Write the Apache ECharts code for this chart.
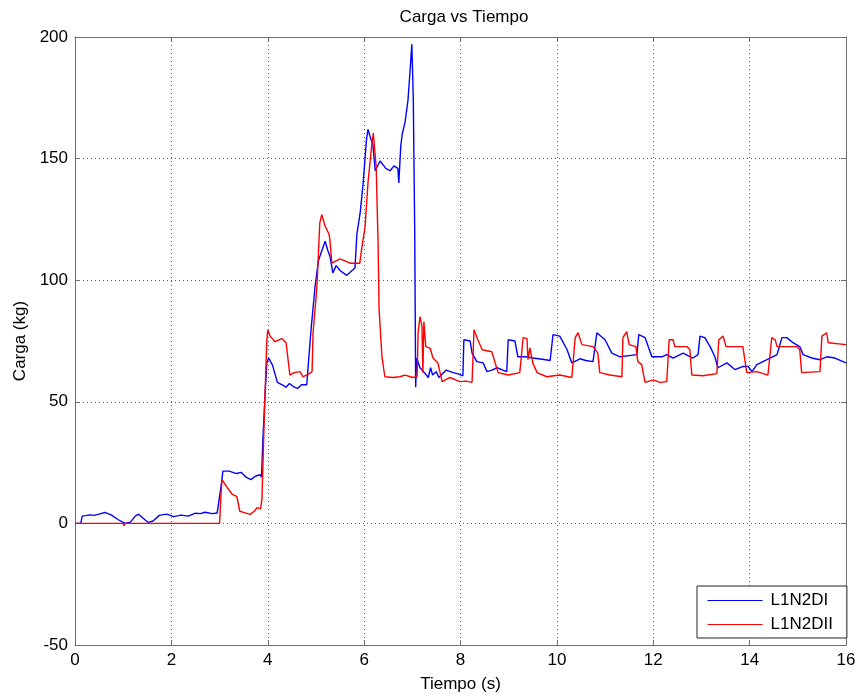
<!DOCTYPE html>
<html>
<head>
<meta charset="utf-8">
<title>Carga vs Tiempo</title>
<script src="https://cdn.jsdelivr.net/npm/echarts@6/dist/echarts.min.js"></script>
<style>
  html, body { margin: 0; padding: 0; background: #fff; }
  #chart { width: 861px; height: 698px; }
</style>
</head>
<body>
<div id="chart"></div>
<script>
const xTicks = [0, 2, 4, 6, 8, 10, 12, 14, 16]
const yTicks = [-50, 0, 50, 100, 150, 200]

// L1N2DI (azul): tiempo (s) y carga (kg)
const blueTime = [0, 0.12, 0.15, 0.22, 0.3, 0.4, 0.5, 0.62, 0.75, 0.9, 1.04, 1.15, 1.25, 1.32, 1.42, 1.52, 1.62, 1.75, 1.9, 2.05, 2.2, 2.35, 2.5, 2.6, 2.7, 2.85, 2.95, 2.99, 3.03, 3.07, 3.2, 3.35, 3.45, 3.55, 3.65, 3.75, 3.84, 3.87, 3.9, 3.95, 3.98, 4.02, 4.1, 4.2, 4.3, 4.38, 4.45, 4.55, 4.62, 4.7, 4.81, 4.84, 4.9, 4.98, 5.05, 5.12, 5.19, 5.25, 5.29, 5.35, 5.42, 5.5, 5.64, 5.75, 5.81, 5.85, 5.92, 5.98, 6.05, 6.08, 6.14, 6.18, 6.23, 6.33, 6.45, 6.54, 6.62, 6.7, 6.72, 6.76, 6.79, 6.85, 6.91, 6.96, 6.99, 7.02, 7.05, 7.07, 7.09, 7.16, 7.25, 7.33, 7.38, 7.42, 7.5, 7.55, 7.6, 7.7, 7.85, 7.95, 8.05, 8.07, 8.2, 8.24, 8.34, 8.47, 8.55, 8.65, 8.76, 8.88, 8.96, 8.99, 9.13, 9.19, 9.35, 9.5, 9.7, 9.86, 9.92, 10.06, 10.21, 10.31, 10.48, 10.6, 10.75, 10.83, 11.0, 11.14, 11.31, 11.5, 11.66, 11.7, 11.83, 11.97, 12.18, 12.28, 12.41, 12.62, 12.82, 12.93, 12.97, 13.07, 13.18, 13.28, 13.34, 13.53, 13.7, 13.85, 13.97, 14.05, 14.15, 14.36, 14.57, 14.67, 14.77, 14.9, 15.04, 15.11, 15.29, 15.46, 15.6, 15.77, 16]
const blueLoad = [0, 0, 3, 3.2, 3.5, 3.3, 3.8, 4.5, 3.5, 1.5, 0, 0.5, 3, 3.8, 2, 0.4, 1, 3.3, 3.8, 2.8, 3.4, 3, 4.2, 4, 4.6, 4, 4.3, 3.5, 15, 21.5, 21.5, 20.5, 21, 19, 18, 19.5, 20, 19, 35, 55, 66, 68, 65, 58, 57, 56, 57.5, 56, 55.5, 57, 57, 65, 80, 97, 108, 112, 116, 112, 110, 103, 106, 104, 102, 104, 105, 119, 128, 140, 158, 162, 158, 156, 145, 149, 146, 145, 147, 146, 140, 155, 160, 165, 174, 188, 197, 175, 120, 56, 68, 64, 62, 60, 64, 61, 62.4, 60, 61, 63, 62, 61.5, 60.7, 75.5, 75, 70, 66.5, 66, 62.4, 63, 64, 63, 62.4, 75.5, 75, 68.5, 68.5, 68, 67.5, 67, 77.6, 77, 71.5, 66, 67.7, 67, 66.5, 78.4, 75.5, 70, 68.5, 69, 69.4, 77.6, 76.4, 68.5, 68.5, 69.4, 68, 70, 68, 69.4, 77, 76.4, 72.7, 68.5, 64, 66, 63.2, 64.5, 64.5, 62.4, 65.3, 67.3, 69.4, 76.4, 76.4, 74.3, 72.7, 69.4, 68, 67.3, 68.5, 68, 66]

// L1N2DII (rojo)
const redTime = [0, 1.0, 1.02, 1.04, 3.0, 3.03, 3.05, 3.15, 3.26, 3.36, 3.42, 3.5, 3.63, 3.72, 3.78, 3.85, 3.88, 3.93, 3.98, 4.0, 4.05, 4.15, 4.29, 4.38, 4.46, 4.55, 4.67, 4.73, 4.85, 4.92, 4.94, 5.02, 5.08, 5.12, 5.19, 5.27, 5.29, 5.33, 5.5, 5.71, 5.91, 5.95, 6.02, 6.08, 6.16, 6.19, 6.25, 6.29, 6.31, 6.37, 6.43, 6.6, 6.74, 6.85, 7.01, 7.1, 7.12, 7.16, 7.2, 7.22, 7.24, 7.28, 7.37, 7.43, 7.53, 7.62, 7.78, 7.9, 7.99, 8.12, 8.24, 8.28, 8.36, 8.45, 8.65, 8.78, 8.99, 9.23, 9.3, 9.38, 9.4, 9.44, 9.5, 9.59, 9.79, 10.06, 10.31, 10.38, 10.44, 10.52, 10.75, 10.85, 10.89, 11.1, 11.35, 11.37, 11.45, 11.5, 11.64, 11.68, 11.76, 11.83, 12.0, 12.14, 12.28, 12.33, 12.41, 12.45, 12.7, 12.76, 12.8, 13.03, 13.32, 13.36, 13.45, 13.51, 13.86, 13.9, 13.94, 14.15, 14.38, 14.46, 14.53, 14.57, 14.98, 15.04, 15.08, 15.46, 15.5, 15.6, 15.63, 16]
const redLoad = [0, 0, -1, 0, 0, 12, 18, 15, 12, 11, 5, 4.5, 3.7, 5, 6.5, 6, 10, 45, 75, 79.6, 77, 74.7, 76, 74.3, 61, 62, 62.4, 60.3, 61.5, 62.4, 78.4, 97, 123.5, 127, 122.3, 119, 116.6, 107, 108.8, 107, 107, 113, 122, 140, 156, 160.5, 146.6, 115, 88, 68.6, 60.3, 60, 60.3, 61, 60, 60.3, 78.4, 85, 81, 62, 83, 72.7, 72, 68, 66, 58.3, 60, 59, 58.3, 58.5, 58, 79.6, 75.5, 71.4, 70.6, 62, 61, 62, 76.4, 76, 67.3, 72.2, 66, 62, 60.3, 61, 60, 76.4, 78.4, 73.5, 72.7, 70, 62, 61, 60.3, 76.4, 78.8, 73.5, 72.7, 66.5, 65.3, 58, 59, 58, 58.3, 75.5, 75.5, 72.7, 72.7, 71.4, 61, 60.7, 61.6, 75.5, 77, 72.7, 72.7, 67.3, 62, 62.4, 61, 76.4, 75.5, 72.7, 72.7, 71.4, 62, 62.4, 77, 78.4, 74.3, 73.5]

const font = "'Liberation Sans', Arial, sans-serif"
const axisColor = '#6e6e6e'
const blue = '#0000ff'
const red = '#ff0000'

const chart = echarts.init(document.getElementById('chart'))

const gridLine = {
  show: true,
  lineStyle: { color: '#5a5a5a', type: [1, 3], width: 1 }
}

const option = {
  animation: false,
  backgroundColor: '#fff',
  textStyle: { fontFamily: font },
  title: {
    text: 'Carga vs Tiempo',
    left: 459,
    top: 4,
    textAlign: 'center',
    textStyle: { fontSize: 17, fontWeight: 'normal', color: '#000', fontFamily: font }
  },
  legend: {
    orient: 'vertical',
    left: 697,
    top: 586,
    padding: [6, 14, 5, 10],
    itemWidth: 55,
    itemHeight: 14,
    itemGap: 7,
    backgroundColor: '#fff',
    borderColor: '#222',
    borderWidth: 1,
    itemStyle: { opacity: 0 },
    lineStyle: { width: 1 },
    textStyle: { fontSize: 17, color: '#000', fontFamily: font, padding: [0, 0, 0, 3] },
    data: ['L1N2DI', 'L1N2DII']
  },
  grid: { left: 75, right: 15, top: 37, bottom: 52 },
  xAxis: [
    {
      type: 'value',
      min: xTicks[0],
      max: xTicks[xTicks.length - 1],
      interval: 2,
      name: 'Tiempo (s)',
      nameLocation: 'middle',
      nameGap: 31,
      nameTextStyle: { fontSize: 17, color: '#000' },
      axisLine: { show: true, onZero: false, lineStyle: { color: axisColor } },
      axisTick: { show: true, inside: true, length: 5, lineStyle: { color: axisColor } },
      axisLabel: { fontSize: 17, color: '#000', margin: 7 },
      splitLine: gridLine
    },
    {
      type: 'value',
      position: 'top',
      min: xTicks[0],
      max: xTicks[xTicks.length - 1],
      interval: 2,
      axisLine: { show: true, onZero: false, lineStyle: { color: axisColor } },
      axisTick: { show: true, inside: true, length: 5, lineStyle: { color: axisColor } },
      axisLabel: { show: false },
      splitLine: { show: false }
    }
  ],
  yAxis: [
    {
      type: 'value',
      min: yTicks[0],
      max: yTicks[yTicks.length - 1],
      interval: 50,
      name: 'Carga (kg)',
      nameLocation: 'middle',
      nameGap: 33,
      nameTextStyle: { fontSize: 17, color: '#000' },
      axisLine: { show: true, onZero: false, lineStyle: { color: axisColor } },
      axisTick: { show: true, inside: true, length: 5, lineStyle: { color: axisColor } },
      axisLabel: { fontSize: 17, color: '#000', margin: 7 },
      splitLine: gridLine
    },
    {
      type: 'value',
      position: 'right',
      min: yTicks[0],
      max: yTicks[yTicks.length - 1],
      interval: 50,
      axisLine: { show: true, onZero: false, lineStyle: { color: axisColor } },
      axisTick: { show: true, inside: true, length: 5, lineStyle: { color: axisColor } },
      axisLabel: { show: false },
      splitLine: { show: false }
    }
  ],
  series: [
    {
      name: 'L1N2DI',
      type: 'line',
      symbol: 'none',
      lineStyle: { color: blue, width: 1.4 },
      itemStyle: { color: blue },
      data: blueTime.map((t, i) => [t, blueLoad[i]])
    },
    {
      name: 'L1N2DII',
      type: 'line',
      symbol: 'none',
      lineStyle: { color: red, width: 1.4 },
      itemStyle: { color: red },
      data: redTime.map((t, i) => [t, redLoad[i]])
    }
  ]
}

chart.setOption(option)
</script>
</body>
</html>
